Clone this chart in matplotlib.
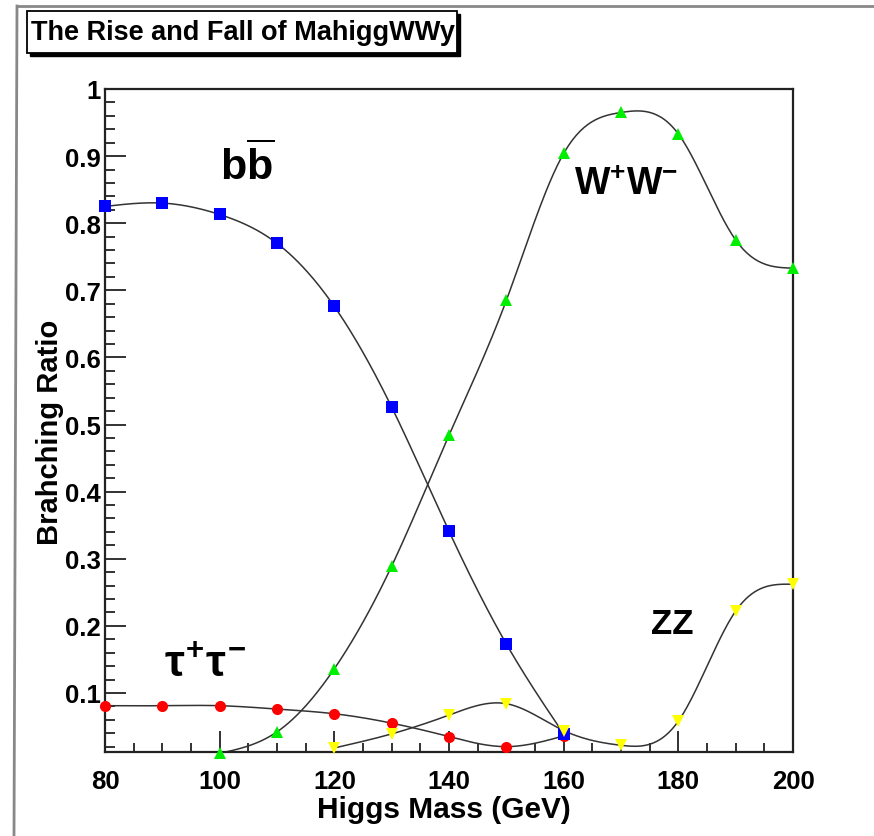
import numpy as np
import matplotlib
matplotlib.use("Agg")
import matplotlib.pyplot as plt
from matplotlib.lines import Line2D
from matplotlib.patches import Rectangle
from matplotlib.ticker import MultipleLocator, FixedLocator

plt.rcParams['font.family'] = ['Liberation Sans', 'DejaVu Sans']
plt.rcParams['font.weight'] = 'bold'
plt.rcParams['mathtext.fontset'] = 'custom'
plt.rcParams['mathtext.rm'] = 'Liberation Sans:bold'
plt.rcParams['mathtext.it'] = 'Liberation Sans:bold'
plt.rcParams['mathtext.bf'] = 'Liberation Sans:bold'

# branching ratios
mass_bb = [80, 90, 100, 110, 120, 130, 140, 150, 160]
br_bb = [0.825, 0.830, 0.813, 0.770, 0.676, 0.526, 0.341, 0.173, 0.039]

mass_tau = [80, 90, 100, 110, 120, 130, 140, 150, 160]
br_tau = [0.081, 0.081, 0.081, 0.076, 0.069, 0.055, 0.035, 0.020, 0.036]

mass_ww = [100, 110, 120, 130, 140, 150, 160, 170, 180, 190, 200]
br_ww = [0.010, 0.042, 0.136, 0.289, 0.484, 0.685, 0.904, 0.965, 0.933, 0.775, 0.733]

mass_zz = [120, 130, 140, 150, 160, 170, 180, 190, 200]
br_zz = [0.018, 0.039, 0.067, 0.084, 0.044, 0.022, 0.058, 0.222, 0.262]

y_major = [0.1, 0.2, 0.3, 0.4, 0.5, 0.6, 0.7, 0.8, 0.9, 1.0]
y_labels = ['0.1', '0.2', '0.3', '0.4', '0.5', '0.6', '0.7', '0.8', '0.9', '1']


def spline(x, y, n=300):
    # natural cubic spline, like the smooth "C" option of the original
    x = np.asarray(x, float)
    y = np.asarray(y, float)
    h = np.diff(x)
    m = len(x)
    A = np.zeros((m, m))
    r = np.zeros(m)
    A[0, 0] = A[-1, -1] = 1
    for i in range(1, m - 1):
        A[i, i - 1] = h[i - 1]
        A[i, i] = 2 * (h[i - 1] + h[i])
        A[i, i + 1] = h[i]
        r[i] = 3 * ((y[i + 1] - y[i]) / h[i] - (y[i] - y[i - 1]) / h[i - 1])
    c = np.linalg.solve(A, r)
    b = (y[1:] - y[:-1]) / h - h * (2 * c[:-1] + c[1:]) / 3
    d = (c[1:] - c[:-1]) / (3 * h)
    xs = np.linspace(x[0], x[-1], n)
    idx = np.clip(np.searchsorted(x, xs) - 1, 0, m - 2)
    dx = xs - x[idx]
    return xs, y[idx] + b[idx] * dx + c[idx] * dx ** 2 + d[idx] * dx ** 3


W, H = 874, 837
fig = plt.figure(figsize=(W / 100, H / 100), dpi=100)
fig.patch.set_facecolor('white')
ax = fig.add_axes([105 / W, 1 - 753 / H, (793 - 105) / W, (753 - 90) / H])

# curves
for xm, yv in [(mass_bb, br_bb), (mass_tau, br_tau), (mass_ww, br_ww), (mass_zz, br_zz)]:
    xs, ys = spline(xm, yv)
    ax.plot(xs, ys, color='#333333', lw=1.1, zorder=2)

# markers
ax.plot(mass_tau, br_tau, 'o', color='#ff0000', ms=8, mew=0, zorder=3, clip_on=False)
ax.plot(mass_bb, br_bb, 's', color='#0000ff', ms=9, mew=0, zorder=4, clip_on=False)
ax.plot(mass_ww, br_ww, '^', color='#00ee00', ms=9, mew=0, zorder=5, clip_on=False)
ax.plot(mass_zz, br_zz, 'v', color='#ffff00', ms=9, mew=0, zorder=6, clip_on=False)

ax.set_xlim(80, 200)
ax.set_ylim(0.012, 1.0)
ax.xaxis.set_major_locator(MultipleLocator(20))
ax.xaxis.set_minor_locator(MultipleLocator(5))
ax.yaxis.set_major_locator(FixedLocator(y_major))
ax.set_yticklabels(y_labels)
ax.yaxis.set_minor_locator(MultipleLocator(0.02))

for s in ax.spines.values():
    s.set_linewidth(1.6)
    s.set_color('#222222')
ax.tick_params(which='both', direction='in', top=False, right=False,
               color='#222222', width=1.3, labelsize=18.5)
ax.tick_params(axis='y', which='major', length=15, pad=3)
ax.tick_params(axis='y', which='minor', length=7.5)
ax.tick_params(axis='x', which='major', length=15, pad=12)
ax.tick_params(axis='x', which='minor', length=6.5)
for lab in ax.get_xticklabels() + ax.get_yticklabels():
    lab.set_fontweight('bold')

fig.text(444 / W, 1 - 810 / H, 'Higgs Mass (GeV)', ha='center', va='center',
         fontsize=21.5, fontweight='bold')
fig.text(50 / W, 1 - 432 / H, 'Brahching Ratio', ha='center', va='center',
         rotation=90, fontsize=21, fontweight='bold')

# labels for the decay channels
ax.text(104.8, 0.887, r'$\mathrm{b}\overline{\mathrm{b}}$', fontsize=31, ha='center', va='center')
ax.text(170.8, 0.858, r'$\mathrm{W^{+}W^{-}}$', fontsize=27, ha='center', va='center')
ax.text(179, 0.203, 'ZZ', fontsize=25, ha='center', va='center', fontweight='bold')
ax.text(97.5, 0.142, r'$\tau^{+}\tau^{-}$', fontsize=32, ha='center', va='center')

# canvas border and title box
fig.add_artist(Line2D([17 / W, 1], [1 - 7 / H, 1 - 7 / H], transform=fig.transFigure,
                      color='#888888', lw=2))
fig.add_artist(Line2D([17 / W, 14 / W], [1 - 7 / H, 0], transform=fig.transFigure,
                      color='#888888', lw=2))
fig.add_artist(Rectangle((30 / W, 1 - 57 / H), 430 / W, 42 / H, transform=fig.transFigure,
                         facecolor='black', edgecolor='black'))
fig.add_artist(Rectangle((27 / W, 1 - 54 / H), 430 / W, 42 / H, transform=fig.transFigure,
                         facecolor='white', edgecolor='black', lw=1.3))
fig.text(243 / W, 1 - 33 / H, 'The Rise and Fall of MahiggWWy', ha='center', va='center',
         fontsize=19.5, fontweight='bold')

fig.savefig('out.png', dpi=100)
